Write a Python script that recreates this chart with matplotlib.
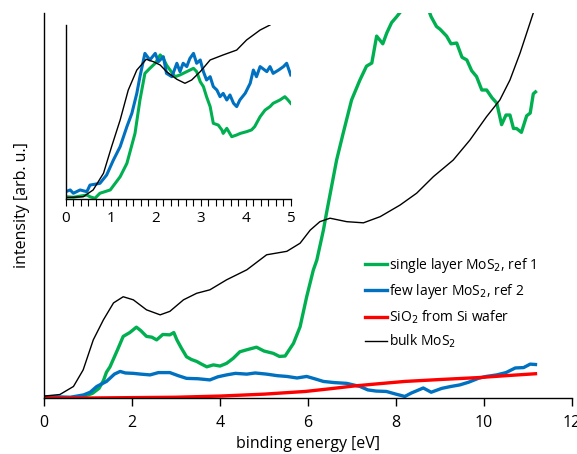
import matplotlib
matplotlib.use("Agg")
import matplotlib.pyplot as plt
import numpy as np

plt.rcParams['font.family'] = ['Open Sans', 'DejaVu Sans']

# ---------------- main panel data (E in eV, intensity in arb. u.) ----------------
bulk_E = [0.0, 0.36, 0.67, 0.89, 1.12, 1.35, 1.58, 1.80, 2.03, 2.33, 2.64, 2.86, 3.17,
          3.47, 3.77, 4.15, 4.61, 5.06, 5.52, 5.82, 6.05, 6.27, 6.50, 6.88, 7.26, 7.64,
          8.09, 8.47, 8.85, 9.30, 9.68, 10.06, 10.36, 10.59, 10.82, 11.12]
bulk_I = [0.005, 0.009, 0.030, 0.073, 0.151, 0.203, 0.247, 0.263, 0.255, 0.229, 0.216,
          0.225, 0.255, 0.272, 0.281, 0.307, 0.333, 0.372, 0.381, 0.402, 0.436, 0.458,
          0.467, 0.458, 0.455, 0.471, 0.501, 0.532, 0.575, 0.618, 0.670, 0.731, 0.774,
          0.826, 0.896, 1.000]

single_E = [0.0, 0.3, 0.6, 0.9, 1.1, 1.25, 1.35, 1.42, 1.50, 1.67, 1.80, 1.95, 2.10, 2.20,
            2.33, 2.45, 2.56, 2.70, 2.86, 2.95, 3.02, 3.12, 3.24, 3.35, 3.47, 3.58, 3.70,
            3.85, 4.00, 4.15, 4.30, 4.45, 4.60, 4.83, 5.00, 5.21, 5.35, 5.48, 5.67, 5.82,
            5.97, 6.12, 6.20, 6.35, 6.42, 6.65, 6.80, 6.99, 7.18, 7.33, 7.45, 7.56, 7.70,
            7.79, 7.90, 8.02, 8.15, 8.32, 8.45, 8.55, 8.70, 8.80, 8.92, 9.00, 9.15, 9.25,
            9.38, 9.50, 9.61, 9.72, 9.83, 9.95, 10.06, 10.18, 10.29, 10.40, 10.50, 10.59,
            10.67, 10.74, 10.85, 10.97, 11.05, 11.12, 11.17]
single_I = [0.002, 0.001, 0.000, 0.004, 0.012, 0.025, 0.045, 0.067, 0.081, 0.125, 0.160,
            0.170, 0.184, 0.175, 0.160, 0.158, 0.151, 0.165, 0.164, 0.170, 0.151, 0.130,
            0.107, 0.100, 0.095, 0.088, 0.081, 0.086, 0.083, 0.090, 0.103, 0.120, 0.125,
            0.132, 0.122, 0.116, 0.108, 0.109, 0.142, 0.185, 0.263, 0.332, 0.358, 0.436,
            0.480, 0.618, 0.688, 0.774, 0.826, 0.862, 0.870, 0.940, 0.920, 0.948, 0.975,
            0.991, 1.010, 1.020, 1.010, 1.020, 1.020, 0.990, 0.965, 0.958, 0.940, 0.920,
            0.922, 0.885, 0.878, 0.850, 0.835, 0.800, 0.800, 0.780, 0.766, 0.710, 0.735,
            0.735, 0.700, 0.700, 0.690, 0.733, 0.740, 0.790, 0.795]

few_E = [0.0, 0.3, 0.6, 0.9, 1.05, 1.2, 1.42, 1.60, 1.73, 1.85, 2.03, 2.20, 2.41, 2.60,
         2.86, 3.05, 3.24, 3.50, 3.77, 3.95, 4.15, 4.35, 4.61, 4.80, 5.06, 5.30, 5.52,
         5.75, 5.97, 6.15, 6.35, 6.60, 6.88, 7.03, 7.18, 7.36, 7.55, 7.78, 8.0, 8.2, 8.35,
         8.62, 8.80, 9.04, 9.25, 9.45, 9.65, 9.87, 10.05, 10.29, 10.50, 10.71, 10.90, 11.05,
         11.17]
few_I = [0.002, 0.003, 0.002, 0.008, 0.015, 0.030, 0.043, 0.062, 0.069, 0.065, 0.064,
         0.062, 0.060, 0.066, 0.066, 0.058, 0.051, 0.050, 0.047, 0.055, 0.060, 0.064,
         0.062, 0.065, 0.062, 0.058, 0.056, 0.052, 0.056, 0.050, 0.043, 0.040, 0.038,
         0.034, 0.030, 0.021, 0.018, 0.017, 0.010, 0.004, 0.013, 0.026, 0.015, 0.025,
         0.030, 0.034, 0.041, 0.051, 0.056, 0.060, 0.066, 0.078, 0.079, 0.088, 0.087]

sio2_E = [0.0, 1.0, 2.0, 3.0, 4.0, 5.0, 5.94, 6.5, 7.03, 7.6, 8.2, 9.0, 9.87, 10.5, 11.17]
sio2_I = [0.000, 0.000, 0.001, 0.002, 0.005, 0.010, 0.017, 0.024, 0.031, 0.037, 0.043,
          0.048, 0.053, 0.058, 0.063]

# ---------------- inset data ----------------
in_bulk_E = [0.0, 0.39, 0.61, 0.84, 1.02, 1.21, 1.39, 1.58, 1.79, 1.95, 2.10, 2.24, 2.47,
             2.65, 2.80, 2.99, 3.21, 3.50, 3.80, 4.02, 4.32, 4.54]
in_bulk_I = [0.008, 0.013, 0.052, 0.148, 0.301, 0.454, 0.626, 0.741, 0.803, 0.789, 0.770,
             0.732, 0.688, 0.665, 0.684, 0.732, 0.799, 0.828, 0.856, 0.914, 0.971, 1.000]

in_few_E = [0.0, 0.10, 0.17, 0.32, 0.47, 0.54, 0.76, 0.91, 1.06, 1.21, 1.36, 1.47, 1.58,
            1.65, 1.76, 1.87, 1.99, 2.06, 2.17, 2.24, 2.36, 2.47, 2.54, 2.61, 2.69, 2.76,
            2.84, 2.91, 2.99, 3.06, 3.13, 3.21, 3.28, 3.36, 3.43, 3.50, 3.58, 3.65, 3.73,
            3.80, 3.87, 3.99, 4.10, 4.17, 4.24, 4.32, 4.47, 4.54, 4.61, 4.73, 4.84, 4.91,
            5.0]
in_few_I = [0.042, 0.052, 0.033, 0.052, 0.042, 0.080, 0.090, 0.138, 0.224, 0.301, 0.416,
            0.492, 0.607, 0.703, 0.837, 0.799, 0.837, 0.789, 0.818, 0.722, 0.703, 0.780,
            0.732, 0.780, 0.761, 0.808, 0.837, 0.780, 0.799, 0.732, 0.684, 0.703, 0.646,
            0.626, 0.588, 0.607, 0.569, 0.598, 0.550, 0.531, 0.569, 0.608, 0.665, 0.741,
            0.703, 0.761, 0.732, 0.761, 0.722, 0.741, 0.761, 0.780, 0.713]

in_single_E = [0.0, 0.17, 0.47, 0.54, 0.65, 0.76, 0.99, 1.21, 1.36, 1.54, 1.65, 1.76,
               1.87, 1.99, 2.10, 2.17, 2.24, 2.32, 2.43, 2.54, 2.69, 2.84, 2.91, 2.99,
               3.06, 3.13, 3.21, 3.28, 3.39, 3.47, 3.50, 3.58, 3.69, 3.80, 3.88, 4.02,
               4.13, 4.20, 4.32, 4.43, 4.54, 4.61, 4.76, 4.87, 4.94, 5.0]
in_single_I = [0.013, 0.010, 0.023, 0.013, 0.004, 0.033, 0.052, 0.128, 0.205, 0.377,
               0.569, 0.722, 0.751, 0.780, 0.828, 0.808, 0.770, 0.741, 0.703, 0.713,
               0.732, 0.751, 0.732, 0.674, 0.646, 0.588, 0.531, 0.435, 0.425, 0.397,
               0.377, 0.406, 0.358, 0.368, 0.377, 0.387, 0.397, 0.416, 0.473, 0.511,
               0.531, 0.550, 0.569, 0.588, 0.569, 0.550]

GREEN = '#00B050'
BLUE = '#0070C0'
RED = '#FF0000'
BLACK = '#000000'

fig = plt.figure(figsize=(5.77, 4.54), dpi=100)
W, H = 577, 454
ax = fig.add_axes([44 / W, 1 - 398 / H, (572 - 44) / W, (398 - 13) / H])

ax.plot(single_E, single_I, color=GREEN, lw=2.4, label='single layer MoS$_2$, ref 1')
ax.plot(few_E, few_I, color=BLUE, lw=2.4, label='few layer MoS$_2$, ref 2')
ax.plot(sio2_E, sio2_I, color=RED, lw=2.4, label='SiO$_2$ from Si wafer')
ax.plot(bulk_E, bulk_I, color=BLACK, lw=1.0, label='bulk MoS$_2$')

ax.set_xlim(0, 12)
ax.set_ylim(0, 1.0)
ax.set_xticks([0, 2, 4, 6, 8, 10, 12])
ax.set_yticks([])
ax.tick_params(axis='x', direction='out', length=6, width=1, labelsize=11.5, pad=6)
for s in ['top', 'right']:
    ax.spines[s].set_visible(False)
for s in ['left', 'bottom']:
    ax.spines[s].set_linewidth(1.0)
ax.set_xlabel('binding energy [eV]', fontsize=11.5, labelpad=4)
ax.set_ylabel('intensity [arb. u.]', fontsize=11.5, labelpad=10)

leg = ax.legend(loc='upper left', bbox_to_anchor=((365 - 44) / (572 - 44), (398 - 256) / 385),
                frameon=False, fontsize=10, handlelength=1.6, handletextpad=0.15,
                labelspacing=0.52, borderaxespad=0, borderpad=0)

# inset
ins = fig.add_axes([65.7 / W, 1 - 199 / H, (290.7 - 65.7) / W, (199 - 25) / H])
ins.plot(in_single_E, in_single_I, color=GREEN, lw=2.2)
ins.plot(in_few_E, in_few_I, color=BLUE, lw=2.2)
ins.plot(in_bulk_E, in_bulk_I, color=BLACK, lw=1.0)
ins.set_xlim(0, 5)
ins.set_ylim(0, 1.0)
ins.set_xticks([0, 1, 2, 3, 4, 5])
ins.set_xticks(np.arange(0, 5.001, 1 / 6), minor=True)
ins.set_yticks([])
ins.tick_params(axis='x', which='both', direction='out', length=5, width=0.8,
                labelsize=11, pad=4)
ins.patch.set_alpha(0)
for s in ['top', 'right']:
    ins.spines[s].set_visible(False)
for s in ['left', 'bottom']:
    ins.spines[s].set_linewidth(1.0)

fig.savefig('out.png', dpi=100)
